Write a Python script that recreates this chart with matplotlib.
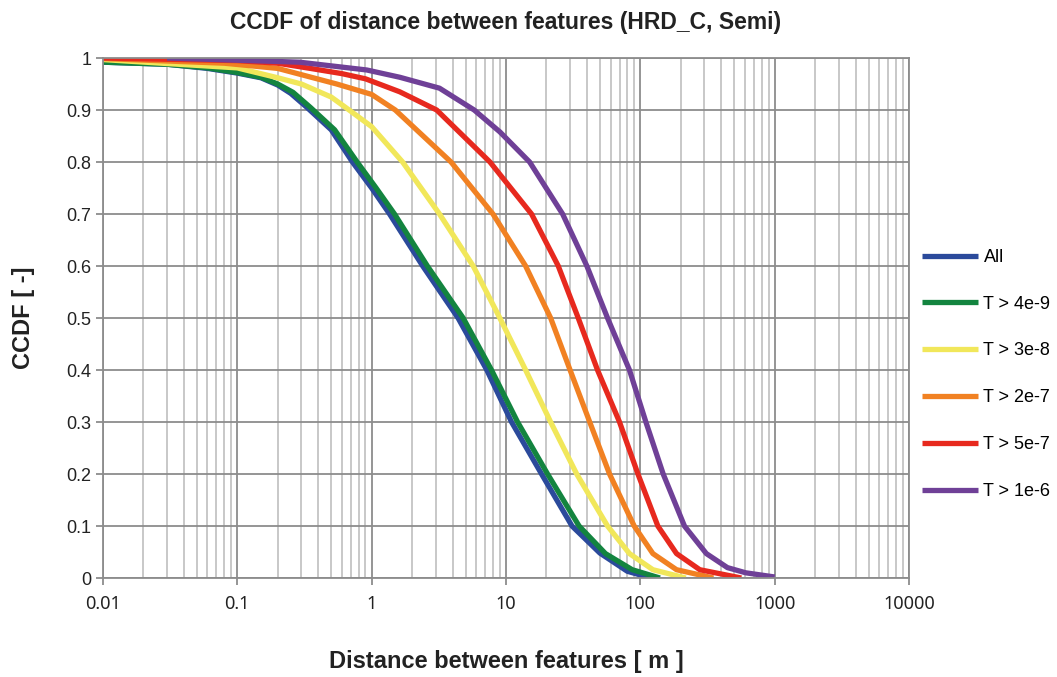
import matplotlib.pyplot as plt
from matplotlib.ticker import LogLocator, FixedLocator, NullFormatter

plt.rcParams['font.family'] = ['Liberation Sans', 'DejaVu Sans']

# distance [m] and CCDF per series
all_x = [0.01, 0.03, 0.06, 0.1, 0.15, 0.2, 0.25, 0.33, 0.5, 0.72, 1.0, 1.36, 2.4, 4.4, 7.2, 11, 18.4, 31, 50, 80, 120]
all_y = [0.992, 0.988, 0.98, 0.971, 0.962, 0.948, 0.932, 0.905, 0.862, 0.8, 0.75, 0.7, 0.6, 0.5, 0.4, 0.3, 0.2, 0.1, 0.048, 0.013, 0.0]

t4e9_x = [0.01, 0.03, 0.06, 0.1, 0.15, 0.2, 0.26, 0.35, 0.53, 0.78, 1.08, 1.48, 2.6, 4.8, 7.8, 12.2, 20.4, 35, 55, 87, 140]
t4e9_y = [0.992, 0.988, 0.981, 0.972, 0.963, 0.95, 0.934, 0.905, 0.862, 0.8, 0.75, 0.7, 0.6, 0.5, 0.4, 0.3, 0.2, 0.1, 0.047, 0.016, 0.0]

t3e8_x = [0.01, 0.1, 0.2, 0.3, 0.5, 0.68, 1.0, 1.7, 3.2, 5.7, 9.0, 14, 21.5, 33.6, 57, 83, 124, 218]
t3e8_y = [0.997, 0.981, 0.962, 0.95, 0.925, 0.9, 0.868, 0.8, 0.7, 0.6, 0.5, 0.4, 0.3, 0.2, 0.1, 0.047, 0.016, 0.0]

t2e7_x = [0.01, 0.08, 0.2, 0.55, 1.0, 1.5, 3.9, 8.0, 14, 21.5, 30, 42, 59, 90, 124, 186, 350]
t2e7_y = [0.999, 0.99, 0.98, 0.95, 0.93, 0.9, 0.8, 0.7, 0.6, 0.5, 0.4, 0.3, 0.2, 0.1, 0.047, 0.016, 0.0]

t5e7_x = [0.01, 0.1, 0.2, 0.35, 0.6, 0.9, 1.62, 3.05, 7.6, 15.5, 24.5, 34.5, 48, 70, 96, 135, 186, 277, 565]
t5e7_y = [1.0, 0.995, 0.99, 0.98, 0.97, 0.96, 0.935, 0.9, 0.8, 0.7, 0.6, 0.5, 0.4, 0.3, 0.2, 0.1, 0.047, 0.016, 0.0]

t1e6_x = [0.03, 0.29, 0.92, 1.62, 3.2, 5.8, 9.0, 15, 26.4, 40, 57, 83, 110, 148, 213, 310, 445, 610, 1000]
t1e6_y = [1.0, 0.992, 0.977, 0.963, 0.942, 0.9, 0.858, 0.8, 0.7, 0.6, 0.5, 0.4, 0.3, 0.2, 0.1, 0.047, 0.02, 0.01, 0.002]

series = [
    ("All", all_x, all_y, "#2b4a9b"),
    ("T > 4e-9", t4e9_x, t4e9_y, "#13843f"),
    ("T > 3e-8", t3e8_x, t3e8_y, "#f1e75a"),
    ("T > 2e-7", t2e7_x, t2e7_y, "#f18122"),
    ("T > 5e-7", t5e7_x, t5e7_y, "#e7291e"),
    ("T > 1e-6", t1e6_x, t1e6_y, "#6f4097"),
]

fig = plt.figure(figsize=(10.57, 6.77), dpi=100)
ax = fig.add_axes([0.0974, 0.1462, 0.7626, 0.7681])

for name, xs, ys, col in series:
    ax.plot(xs, ys, color=col, lw=3.8, label=name, solid_capstyle='butt')

ax.set_xscale('log')
ax.set_xlim(0.01, 10000)
ax.set_ylim(0, 1)
ax.xaxis.set_major_locator(FixedLocator([0.01, 0.1, 1, 10, 100, 1000, 10000]))
ax.xaxis.set_minor_locator(LogLocator(base=10, subs=range(2, 10), numticks=20))
ax.xaxis.set_minor_formatter(NullFormatter())
ax.set_xticklabels(["0.01", "0.1", "1", "10", "100", "1000", "10000"], family=['Noto Sans', 'DejaVu Sans'])
ax.set_yticks([i / 10 for i in range(11)])
ax.set_yticklabels(["0", "0.1", "0.2", "0.3", "0.4", "0.5", "0.6", "0.7", "0.8", "0.9", "1"])

ax.grid(True, which='major', color='#8c8c8c', lw=1.3)
ax.grid(True, which='minor', axis='x', color='#c4c4c4', lw=1.3)
ax.set_axisbelow(True)
for s in ax.spines.values():
    s.set_color('#8c8c8c')
    s.set_linewidth(1.3)
ax.tick_params(axis='both', which='major', length=5, color='#8c8c8c', width=1.3, labelsize=13, labelcolor='#222222')
ax.tick_params(axis='x', which='minor', length=0)
ax.tick_params(axis='x', which='major', pad=7)

ax.set_title("CCDF of distance between features (HRD_C, Semi)", fontsize=16.5, fontweight='bold', pad=21, color='#222222')
ax.set_xlabel("Distance between features [ m ]", fontsize=17, fontweight='bold', labelpad=27, color='#222222')
ax.set_ylabel("CCDF [ -]", fontsize=17, fontweight='bold', labelpad=22, color='#222222')

fig.legend(loc='center left', bbox_to_anchor=(0.857, 0.447), frameon=False, fontsize=13,
           handlelength=3.1, handletextpad=0.3, labelspacing=1.65)

fig.savefig("out.png", dpi=100)
